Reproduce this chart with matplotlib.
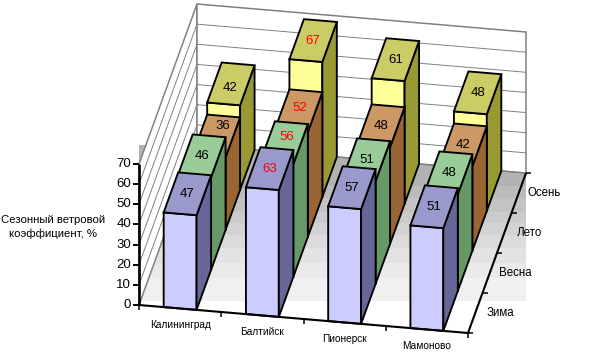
import matplotlib
matplotlib.use("Agg")
import matplotlib.pyplot as plt
import numpy as np
from matplotlib.patches import Polygon, Rectangle

cities = ["Калининград", "Балтийск", "Пионерск", "Мамоново"]
seasons = ["Зима", "Весна", "Лето", "Осень"]
winter = [47, 63, 57, 51]
spring = [46, 56, 51, 48]
summer = [36, 52, 48, 42]
autumn = [42, 67, 61, 48]
y_ticks = [0, 10, 20, 30, 40, 50, 60, 70]

# floor stripes behind the box: (top, bottom, grey)
band_edges = [145, 186, 198, 212, 223, 235, 248, 263, 278, 301]
band_colors = ["#b2b2b2", "#bbbbbb", "#c3c3c3", "#cbcbcb", "#d3d3d3", "#dbdbdb", "#e3e3e3", "#eaeaea", "#f0f0f0"]

# (front, top, side)
series_colors = [
	("#ccccff", "#9999cc", "#666699"),
	("#ccffcc", "#99cc99", "#669966"),
	("#ffcc99", "#cc9966", "#996633"),
	("#ffff99", "#cccc66", "#999933"),
]

# labels that sit off the middle of the top face: (city, season) -> pixel shift
label_shift = {(0, 2): (6, -10), (0, 3): (-1, 4), (1, 1): (3, -6), (1, 2): (1, -3)}

ORIGIN = np.array([139.0, 305.0])
X_VEC = np.array([329.0, 28.0])
Y_VEC = np.array([58.0, -160.0])
Z_VEC = np.array([0.0, -141.0 / 70.0])
BAR_W = 0.4
GREY = "#808080"

plt.rcParams['font.family'] = ['Liberation Sans', 'DejaVu Sans']


def proj(x, y, z=0.0):
	# x, y are fractions of the floor, z is the value
	return ORIGIN + x * X_VEC + y * Y_VEC + z * Z_VEC


def face(ax, pts, color, zorder):
	ax.add_patch(Polygon(pts, closed=True, facecolor=color, edgecolor="black", linewidth=1.35, joinstyle="miter", zorder=zorder))


def draw_bar(ax, i, j, value, colors, zorder):
	n = len(cities)
	m = len(seasons)
	x0 = (i + (1 - BAR_W) / 2) / n
	x1 = (i + (1 + BAR_W) / 2) / n
	y0 = j / m
	y1 = (j + 1) / m
	face(ax, [proj(x0, y0), proj(x1, y0), proj(x1, y0, value), proj(x0, y0, value)], colors[0], zorder)
	face(ax, [proj(x1, y0), proj(x1, y1), proj(x1, y1, value), proj(x1, y0, value)], colors[2], zorder)
	face(ax, [proj(x0, y0, value), proj(x1, y0, value), proj(x1, y1, value), proj(x0, y1, value)], colors[1], zorder)
	c = proj((x0 + x1) / 2, (y0 + y1) / 2, value)
	dx, dy = label_shift.get((i, j), (0, 0))
	color = "red" if cities[i] == "Балтийск" else "black"
	ax.text(c[0] + dx, c[1] + dy, str(value), color=color, fontsize=9.5, ha="center", va="center", zorder=40)


def line(ax, a, b, color="black", lw=1.0, zorder=2):
	ax.plot([a[0], b[0]], [a[1], b[1]], color=color, linewidth=lw, zorder=zorder, solid_capstyle="butt")


fig = plt.figure(figsize=(5.92, 3.55), dpi=100)
ax = fig.add_axes([0, 0, 1, 1])
ax.set_xlim(0, 592)
ax.set_ylim(355, 0)
ax.axis("off")

x_band0 = ORIGIN[0]
x_band1 = proj(1, 1)[0]
for k, c in enumerate(band_colors):
	ax.add_patch(Rectangle((x_band0, band_edges[k]), x_band1 - x_band0, band_edges[k + 1] - band_edges[k], facecolor=c, edgecolor="none", zorder=0))

# walls
top = y_ticks[-1]
ax.add_patch(Polygon([proj(0, 0), proj(0, 1), proj(0, 1, top), proj(0, 0, top)], closed=True, facecolor="white", edgecolor=GREY, linewidth=1.1, zorder=1))
ax.add_patch(Polygon([proj(0, 1), proj(1, 1), proj(1, 1, top), proj(0, 1, top)], closed=True, facecolor="white", edgecolor=GREY, linewidth=1.1, zorder=1))
for t in y_ticks[1:-1]:
	line(ax, proj(0, 0, t), proj(0, 1, t), color=GREY, lw=0.7)
	line(ax, proj(0, 1, t), proj(1, 1, t), color=GREY, lw=0.7)
line(ax, proj(0, 1), proj(1, 1), color=GREY, lw=0.7)

# bars, back row first
all_values = [winter, spring, summer, autumn]
for j in range(len(seasons) - 1, -1, -1):
	for i in range(len(cities)):
		draw_bar(ax, i, j, all_values[j][i], series_colors[j], 10 + (len(seasons) - j) * 2)

# axes
line(ax, proj(0, 0, 0), proj(0, 0, top), lw=1.9, zorder=5)
for t in y_ticks:
	p = proj(0, 0, t)
	line(ax, p, p + np.array([-6, 0]), lw=1.4, zorder=5)
	ax.text(p[0] - 8, p[1], str(t), fontsize=9.5, ha="right", va="center", color="black")

line(ax, proj(0, 0), proj(1, 0), lw=1.5, zorder=30)
for i in range(len(cities) + 1):
	p = proj(i / len(cities), 0)
	line(ax, p, p + np.array([0, 5]), lw=1.1, zorder=30)
for i, name in enumerate(cities):
	p = proj((i + 0.5) / len(cities), 0)
	ax.text(p[0], p[1] + 16.5, name, fontsize=7.3, ha="center", va="center")

line(ax, proj(1, 0), proj(1, 1), lw=1.5, zorder=30)
for j in range(len(seasons) + 1):
	p = proj(1, j / len(seasons))
	line(ax, p, p + np.array([5, 0]), lw=1.1, zorder=30)
for j, name in enumerate(seasons):
	p = proj(1, (j + 0.5) / len(seasons))
	ax.text(p[0] + 25.5, p[1], name, fontsize=8.3, ha="center", va="center")

ax.text(53, 227, "Сезонный ветровой\nкоэффициент, %", fontsize=8.2, ha="center", va="center", linespacing=1.3)

fig.savefig("out.png", dpi=100)
